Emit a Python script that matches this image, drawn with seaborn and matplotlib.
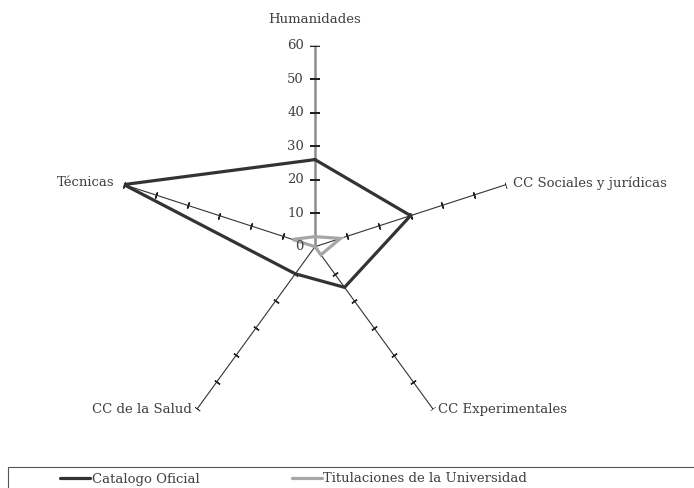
import matplotlib
matplotlib.use('Agg')
import matplotlib.pyplot as plt
from matplotlib.patches import Rectangle
import seaborn as sns
import numpy as np

sns.set_theme(style='white')
plt.rcParams['font.family'] = ['DejaVu Serif']

categories = ['Humanidades', 'CC Sociales y jurídicas', 'CC Experimentales',
              'CC de la Salud', 'Técnicas']
catalogo = [26, 30, 15, 10, 60]
titulaciones = [3, 8, 3, 0, 7]
radial_ticks = [0, 10, 20, 30, 40, 50, 60]
series_names = ['Catalogo Oficial', 'Titulaciones de la Universidad']

txt_color = '#404040'
n = len(categories)
theta = 2 * np.pi * np.arange(n) / n

fig = plt.figure(figsize=(6.94, 4.88), dpi=100)
# square polar area centred on the chart origin
ax = fig.add_axes([114 / 694, 40.3 / 488, 402 / 694, 402 / 488], projection='polar')
ax.set_theta_offset(np.pi / 2)
ax.set_theta_direction(-1)
ax.set_ylim(0, 60)
ax.grid(False)
ax.spines['polar'].set_visible(False)
ax.set_xticks([])
ax.set_yticks([])
ax.set_facecolor('none')

# spokes with small cross ticks
for i, t in enumerate(theta):
    if i == 0:
        ax.plot([t, t], [0, 60], color='#8c8c8c', lw=1.8, zorder=1)
        ax.plot([t] * 6, radial_ticks[1:], ls='none', marker='_', ms=6.5,
                mew=1.4, color='#222222', zorder=2)
    else:
        phi = 90 - 360 * i / n
        ax.plot([t, t], [0, 60], color='#333333', lw=0.8, zorder=1)
        ax.plot([t] * 6, radial_ticks[1:], ls='none', marker=(2, 2, phi), ms=4.5,
                mew=1.0, color='#222222', zorder=2)

th_closed = np.append(theta, 2 * np.pi)
sns.lineplot(x=th_closed, y=catalogo + catalogo[:1], sort=False, estimator=None,
             color='#333333', lw=2.3, ax=ax, zorder=4)
sns.lineplot(x=th_closed, y=titulaciones + titulaciones[:1], sort=False, estimator=None,
             color='#a6a6a6', lw=2.3, ax=ax, zorder=3)
for line in ax.lines[-2:]:
    line.set_solid_joinstyle('miter')
ax.set_xlabel('')
ax.set_ylabel('')

# radial value labels on the Humanidades axis
for r in radial_ticks:
    ax.annotate(str(r), xy=(0, r), xytext=(-11, 0), textcoords='offset pixels',
                ha='right', va='center', fontsize=9.5, color=txt_color)

# category labels
offsets = [(0, 26, 'center', 'center'), (7, 1, 'left', 'center'),
           (5, 0, 'left', 'center'), (-5, 0, 'right', 'center'),
           (-9, 2, 'right', 'center')]
for t, lab, (dx, dy, ha, va) in zip(theta, categories, offsets):
    ax.annotate(lab, xy=(t, 60), xytext=(dx, dy), textcoords='offset pixels',
                ha=ha, va=va, fontsize=9.5, color=txt_color, annotation_clip=False)

# legend box (cut by the right/bottom edge as in the original)
fig.patches.append(Rectangle((8 / 694, -0.1), 1.0, (488 - 467) / 488 + 0.1,
                             transform=fig.transFigure, fill=False,
                             edgecolor='#555555', lw=0.8, clip_on=False))
handles = [plt.Line2D([], [], color='#333333', lw=2.3),
           plt.Line2D([], [], color='#a6a6a6', lw=2.3)]
leg = fig.legend(handles, series_names, loc='center left', ncol=2,
                 bbox_to_anchor=(60 / 694, 9 / 488), frameon=False,
                 fontsize=9.5, handlelength=2.3, handletextpad=0.1,
                 columnspacing=7.0, borderpad=0, borderaxespad=0)
for t in leg.get_texts():
    t.set_color(txt_color)

fig.savefig('out.png', dpi=100)
